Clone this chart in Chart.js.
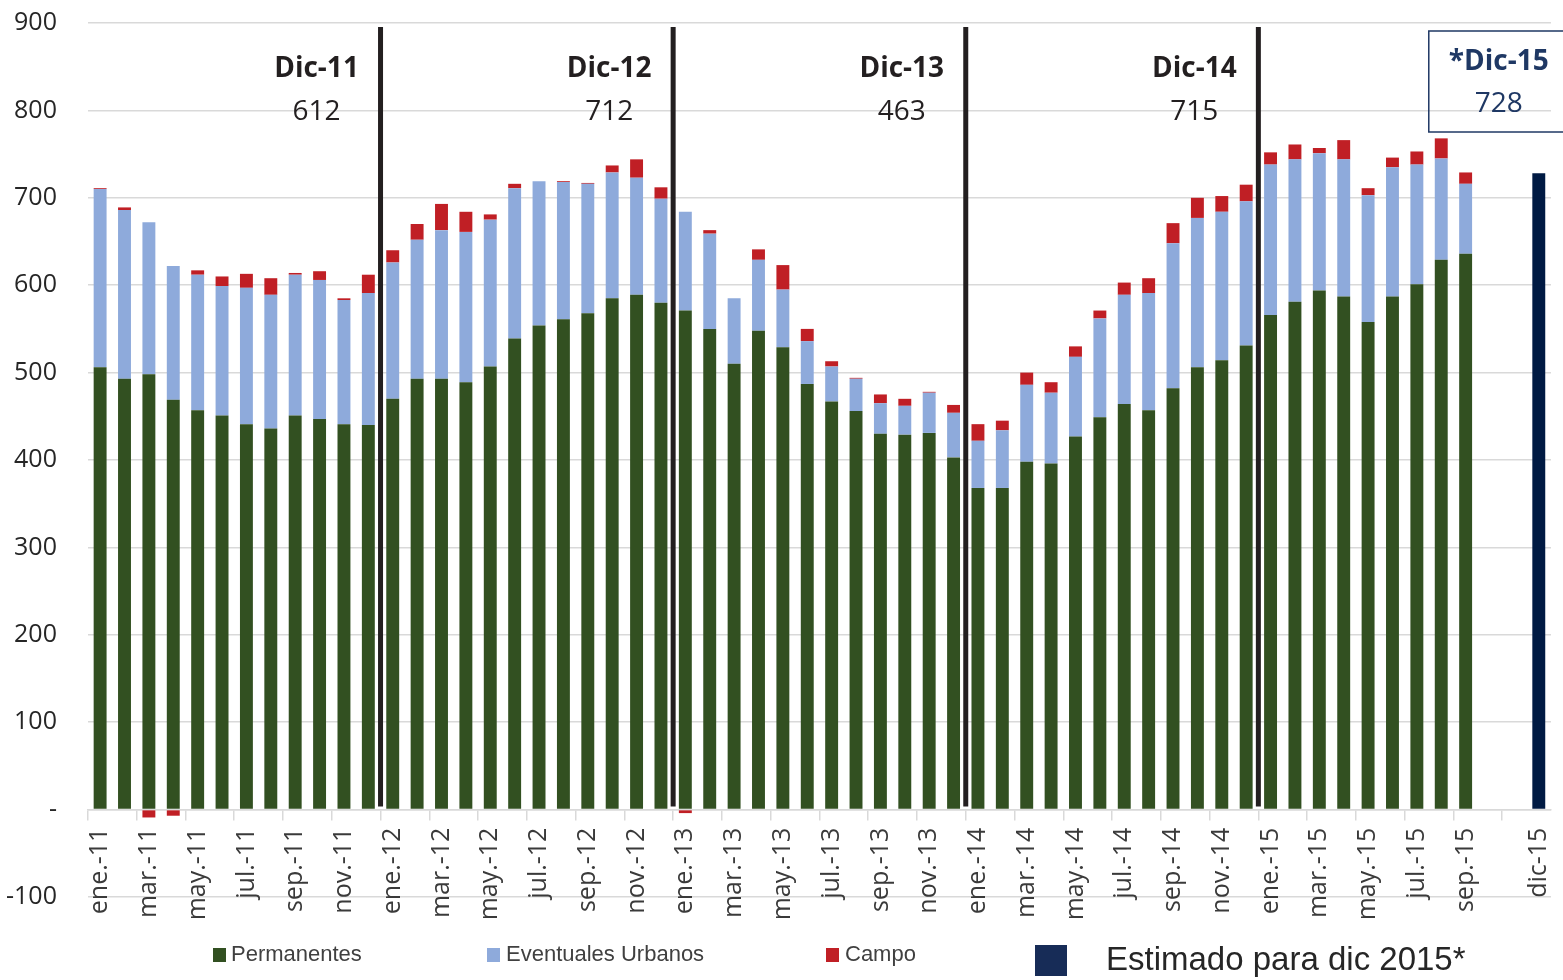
<!DOCTYPE html>
<html>
<head>
<meta charset="utf-8">
<script src="https://cdn.jsdelivr.net/npm/chart.js@4.4.1/dist/chart.umd.min.js"></script>
<style>
    body { margin: 0; background: #fff; overflow: hidden; }
    #wrap { position: relative; width: 1563px; height: 980px; overflow: hidden; }
    #mycanvas { position: absolute; left: 0; top: -23px; }
    .leg { position: absolute; font-family: 'Liberation Sans', Arial, sans-serif; color: #404040; white-space: nowrap; }
    .sq { position: absolute; }
</style>
</head>
<body>
<div id="wrap">
    <canvas id="mycanvas" width="1577" height="1003"></canvas>

    <div class="sq" style="left:213px; top:948px; width:13px; height:14px; background:#325021;"></div>
    <div class="leg" style="left:231px; top:941px; font-size:22px;">Permanentes</div>
    <div class="sq" style="left:487px; top:948px; width:13px; height:14px; background:#8eaadb;"></div>
    <div class="leg" style="left:506px; top:941px; font-size:22px;">Eventuales Urbanos</div>
    <div class="sq" style="left:826px; top:948px; width:13px; height:14px; background:#c01f25;"></div>
    <div class="leg" style="left:845px; top:941px; font-size:22px;">Campo</div>
    <div class="sq" style="left:1035px; top:945px; width:32px; height:31px; background:#172c57;"></div>
    <div class="leg" style="left:1106px; top:940px; font-size:33px; color:#262626;">Estimado para dic 2015*</div>
</div>

<script>
// categories (oct-15 / nov-15 empty, dic-15 = estimate)
var meses = [
    'ene.-11','feb.-11','mar.-11','abr.-11','may.-11','jun.-11','jul.-11','ago.-11','sep.-11','oct.-11','nov.-11','dic.-11',
    'ene.-12','feb.-12','mar.-12','abr.-12','may.-12','jun.-12','jul.-12','ago.-12','sep.-12','oct.-12','nov.-12','dic.-12',
    'ene.-13','feb.-13','mar.-13','abr.-13','may.-13','jun.-13','jul.-13','ago.-13','sep.-13','oct.-13','nov.-13','dic.-13',
    'ene.-14','feb.-14','mar.-14','abr.-14','may.-14','jun.-14','jul.-14','ago.-14','sep.-14','oct.-14','nov.-14','dic.-14',
    'ene.-15','feb.-15','mar.-15','abr.-15','may.-15','jun.-15','jul.-15','ago.-15','sep.-15','oct.-15','nov.-15','dic-15'
];

var permanentes = [
    506, 493, 498, 469, 457, 451, 441, 436, 451, 447, 441, 440,
    470, 493, 493, 489, 507, 539, 554, 561, 568, 585, 589, 580,
    571, 550, 510, 548, 529, 487, 467, 456, 430, 429, 431, 403,
    368, 368, 398, 396, 427, 449, 464, 457, 482, 506, 514, 531,
    566, 581, 594, 587, 558, 587, 601, 629, 636, null, null, null
];

var eventuales = [
    204, 193, 174, 153, 155, 148, 156, 153, 161, 159, 142, 151,
    156, 159, 170, 172, 168, 172, 165, 157, 148, 144, 134, 119,
    113, 109, 75, 81, 66, 49, 40, 37, 35, 33, 46, 51,
    54, 66, 88, 81, 91, 113, 125, 134, 166, 171, 170, 165,
    172, 163, 157, 157, 145, 148, 137, 116, 80, null, null, null
];

var campo = [
    1, 3, -9, -7, 5, 11, 16, 19, 2, 10, 2, 21,
    14, 18, 30, 23, 6, 5, 0, 1, 1, 8, 21, 13,
    -4, 4, 0, 12, 28, 14, 6, 1, 10, 8, 1, 9,
    19, 11, 14, 12, 12, 9, 14, 17, 23, 23, 18, 19,
    14, 17, 6, 22, 8, 11, 15, 23, 13, null, null, null
];

var estimadoDic15 = 728;

// december cut-offs
var cortes = ['Dic-11', 'Dic-12', 'Dic-13', 'Dic-14'];
var cortesValor = [612, 712, 463, 715];
var cortesIndice = [11, 23, 35, 47];

var yTicks = [-100, 0, 100, 200, 300, 400, 500, 600, 700, 800, 900];

var estimado = meses.map(function(m, i) {
    return i === meses.length - 1 ? estimadoDic15 : null;
});

Chart.defaults.font.family = "'Open Sans', sans-serif";

// Vertical lines + December labels
var cortesPlugin = {
    id: 'cortes',
    afterDatasetsDraw: function(chart) {
        var ctx = chart.ctx;
        var xs = chart.scales.x;
        var ys = chart.scales.y;
        var top = ys.getPixelForValue(900);
        var zero = ys.getPixelForValue(0);
        ctx.save();
        for (var i = 0; i < cortes.length; i++) {
            var x = (xs.getPixelForValue(cortesIndice[i]) + xs.getPixelForValue(cortesIndice[i] + 1)) / 2;
            ctx.strokeStyle = '#231f20';
            ctx.lineWidth = 5;
            ctx.beginPath();
            ctx.moveTo(x, top + 4);
            ctx.lineTo(x, zero - 3);
            ctx.stroke();

            ctx.fillStyle = '#231f20';
            ctx.textAlign = 'center';
            ctx.textBaseline = 'middle';
            ctx.font = "bold 28px 'Open Sans'";
            ctx.fillText(cortes[i], x - 64, top + 46);
            ctx.font = "28px 'Open Sans'";
            ctx.fillText(String(cortesValor[i]), x - 64, top + 89);
        }

        // estimate box
        var xe = xs.getPixelForValue(meses.length - 1);
        ctx.strokeStyle = '#1f3864';
        ctx.lineWidth = 1.5;
        ctx.strokeRect(xe - 110, top + 8, 170, 101);
        ctx.fillStyle = '#1f3864';
        ctx.font = "bold 28px 'Open Sans'";
        ctx.fillText('*Dic-15', xe - 40, top + 39);
        ctx.font = "28px 'Open Sans'";
        ctx.fillText(String(estimadoDic15), xe - 40, top + 81);
        ctx.restore();
    }
};

var chartdata = {
    labels: meses,
    datasets: [{
        label: 'Permanentes',
        backgroundColor: '#325021',
        data: permanentes
    }, {
        label: 'Eventuales Urbanos',
        backgroundColor: '#8eaadb',
        data: eventuales
    }, {
        label: 'Campo',
        backgroundColor: '#c01f25',
        data: campo
    }, {
        label: 'Estimado para dic 2015*',
        backgroundColor: '#001a43',
        data: estimado
    }]
};

var barGraph = new Chart(document.getElementById('mycanvas'), {
    type: 'bar',
    data: chartdata,
    plugins: [cortesPlugin],
    options: {
        responsive: false,
        animation: false,
        datasets: {
            bar: { barPercentage: 0.53, categoryPercentage: 1, borderWidth: 0 }
        },
        layout: { padding: { left: -25, right: 26, top: 0, bottom: 83 } },
        plugins: {
            legend: { display: false },
            tooltip: { enabled: false }
        },
        scales: {
            x: {
                stacked: true,
                position: { y: 0 },
                grid: {
                    drawOnChartArea: false,
                    drawTicks: true,
                    tickLength: 10,
                    lineWidth: 1.5,
                    color: function(c) {
                        return (c.index % 2 === 0 && c.index <= 58) ? '#d9d9d9' : 'rgba(0,0,0,0)';
                    }
                },
                border: { display: true, color: '#d9d9d9', width: 1.5 },
                ticks: {
                    autoSkip: false,
                    minRotation: 90,
                    maxRotation: 90,
                    padding: 8,
                    color: '#3a3a3a',
                    font: { size: 25 },
                    callback: function(v, i) {
                        if ((i % 2 === 0 && i <= 56) || i === meses.length - 1) return meses[i];
                        return '';
                    }
                }
            },
            y: {
                stacked: true,
                min: -100,
                max: 900,
                afterBuildTicks: function(s) {
                    s.ticks = yTicks.map(function(v) { return { value: v }; });
                },
                grid: { color: '#d9d9d9', lineWidth: 1.5, drawTicks: false },
                border: { display: false },
                ticks: {
                    padding: 31,
                    color: '#262626',
                    font: { size: 25 },
                    callback: function(v) { return v === 0 ? '-' : v; }
                }
            }
        }
    }
});
</script>
</body>
</html>
